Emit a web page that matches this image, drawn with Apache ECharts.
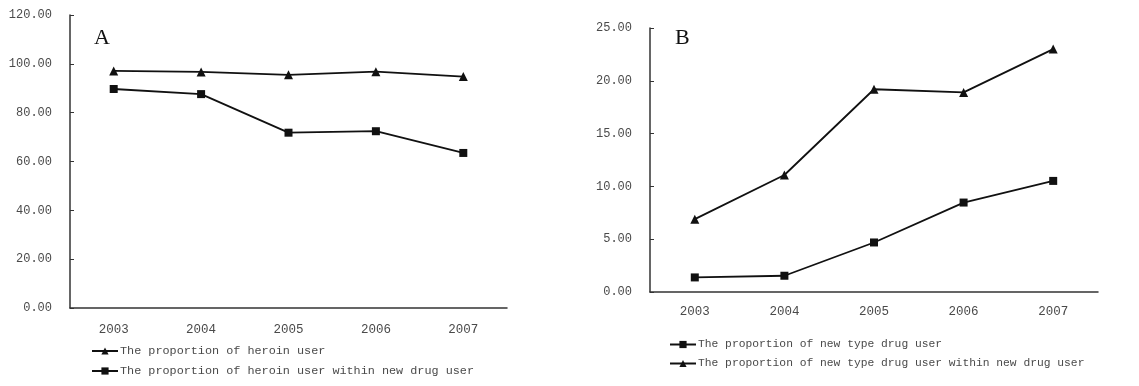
<!DOCTYPE html>
<html><head><meta charset="utf-8">
<script src="https://cdn.jsdelivr.net/npm/echarts@6/dist/echarts.min.js"></script>
<style>html,body{margin:0;padding:0;background:#fff}#c{width:1139px;height:386px}</style>
</head><body><div id="c"></div>
<script>
const years = ['2003','2004','2005','2006','2007'];
const heroinUser = [97.1, 96.7, 95.5, 96.8, 94.8];
const heroinWithinNew = [89.7, 87.6, 71.8, 72.4, 63.5];
const newTypeUser = [1.38, 1.54, 4.69, 8.47, 10.52];
const newTypeWithinNew = [6.9, 11.08, 19.2, 18.9, 23.0];
const nameA1 = 'The proportion of heroin user';
const nameA2 = 'The proportion of heroin user within new drug user';
const nameB1 = 'The proportion of new type drug user';
const nameB2 = 'The proportion of new type drug user within new drug user';

const txt = '#4a4a4a';
const axisCol = '#333';
const mono = 'Liberation Mono';
function xAx(gi, margin){
  return {type:'category', gridIndex:gi, data:years,
    axisLine:{lineStyle:{color:axisCol,width:1.5}},
    axisTick:{inside:true,length:4,lineStyle:{color:axisCol}},
    axisLabel:{color:txt,fontFamily:mono,fontSize:12.5,margin:margin}};
}
function yAx(gi,max,intv){
  return {type:'value', gridIndex:gi, min:0, max:max, interval:intv,
    splitLine:{show:false},
    axisLine:{show:true,lineStyle:{color:axisCol,width:1.5}},
    axisTick:{show:true,inside:true,length:4,lineStyle:{color:axisCol}},
    axisLabel:{color:txt,fontFamily:mono,fontSize:12,margin:18,formatter:v=>v.toFixed(2)}};
}
function ser(name,data,gi,sym,size){
  return {name:name,type:'line',xAxisIndex:gi,yAxisIndex:gi,data:data,
    symbol:sym,symbolSize:size,showSymbol:true,
    lineStyle:{color:'#111',width:1.8},itemStyle:{color:'#111'},animation:false};
}
const chart = echarts.init(document.getElementById('c'));
chart.setOption({
  animation:false,
  title:[
    {text:'A',left:89,top:22,textStyle:{fontFamily:'Liberation Serif',fontSize:22,fontWeight:'normal',color:'#111'}},
    {text:'B',left:670,top:22,textStyle:{fontFamily:'Liberation Serif',fontSize:22,fontWeight:'normal',color:'#111'}}
  ],
  grid:[
    {left:70,top:15,width:437,height:293},
    {left:650,top:28,width:448,height:264}
  ],
  xAxis:[xAx(0,15),xAx(1,13)],
  yAxis:[yAx(0,120,20),yAx(1,25,5)],
  legend:[
    {orient:'vertical',left:86,top:340,itemGap:8,itemWidth:26,itemHeight:9,
     data:[nameA1,nameA2],textStyle:{color:txt,fontFamily:mono,fontSize:11.8,padding:[0,0,0,-3]}},
    {orient:'vertical',left:664,top:334,itemGap:8,itemWidth:26,itemHeight:9,
     data:[nameB1,nameB2],textStyle:{color:txt,fontFamily:mono,fontSize:11.3,padding:[0,0,0,-3]}}
  ],
  series:[
    ser(nameA1,heroinUser,0,'triangle',9),
    ser(nameA2,heroinWithinNew,0,'rect',8),
    ser(nameB1,newTypeUser,1,'rect',8),
    ser(nameB2,newTypeWithinNew,1,'triangle',9)
  ]
});
</script></body></html>
